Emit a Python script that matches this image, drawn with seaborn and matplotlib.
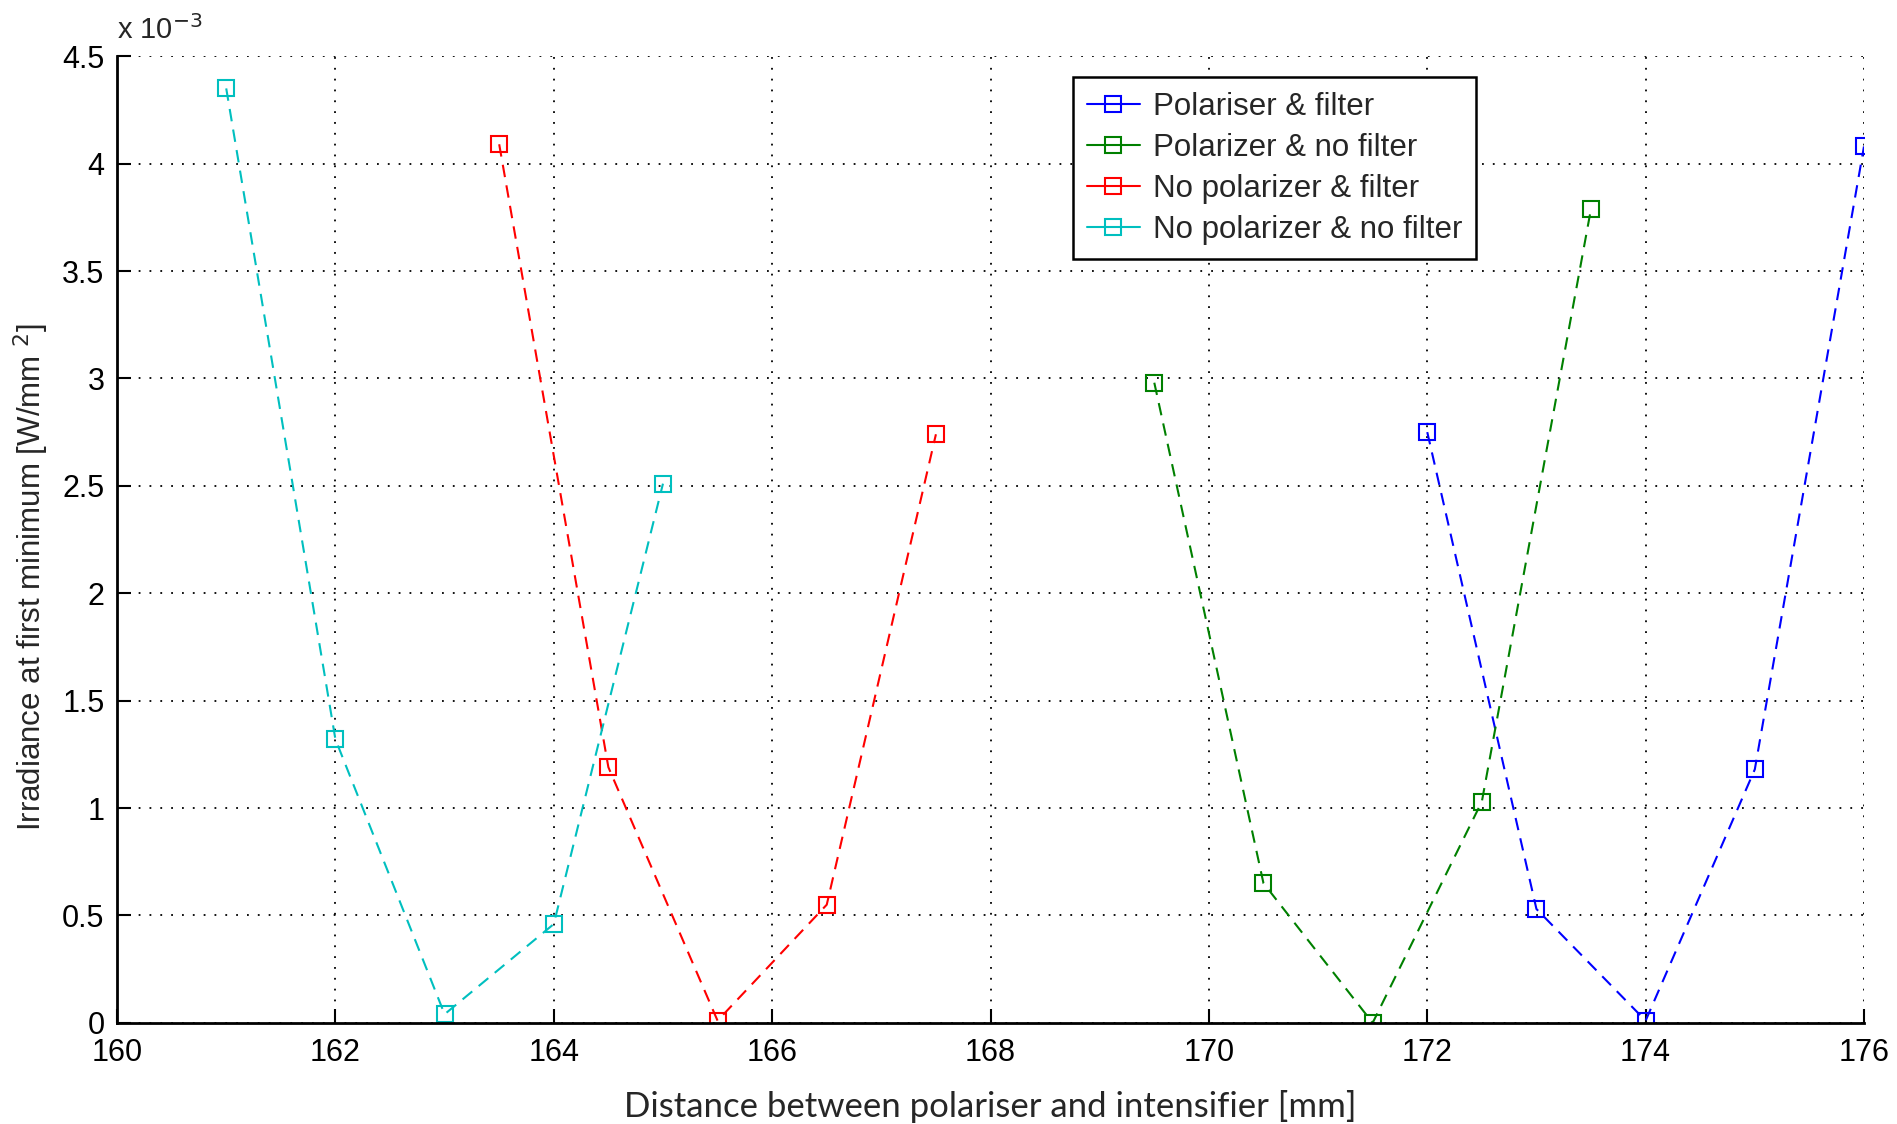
import matplotlib
matplotlib.use("Agg")
import matplotlib.pyplot as plt
import seaborn as sns
import pandas as pd
from matplotlib.lines import Line2D

# ---- data (irradiance in units of 1e-3 W/mm^2) ----
series_names = ["Polariser & filter", "Polarizer & no filter",
                "No polarizer & filter", "No polarizer & no filter"]
dist_pol_filter = [172, 173, 174, 175, 176]
irr_pol_filter = [2.75, 0.53, 0.01, 1.18, 4.08]
dist_pol_nofilter = [169.5, 170.5, 171.5, 172.5, 173.5]
irr_pol_nofilter = [2.98, 0.65, 0.0, 1.03, 3.79]
dist_nopol_filter = [163.5, 164.5, 165.5, 166.5, 167.5]
irr_nopol_filter = [4.09, 1.19, 0.01, 0.55, 2.74]
dist_nopol_nofilter = [161, 162, 163, 164, 165]
irr_nopol_nofilter = [4.35, 1.32, 0.04, 0.46, 2.51]

x_ticks = [160, 162, 164, 166, 168, 170, 172, 174, 176]
y_ticks = [0, 0.5, 1, 1.5, 2, 2.5, 3, 3.5, 4, 4.5]
y_tick_labels = ["0", "0.5", "1", "1.5", "2", "2.5", "3", "3.5", "4", "4.5"]

colors = ["#0000ff", "#008000", "#ff0000", "#00bfbf"]

frames = []
for name, xs, ys in zip(series_names,
                        [dist_pol_filter, dist_pol_nofilter, dist_nopol_filter, dist_nopol_nofilter],
                        [irr_pol_filter, irr_pol_nofilter, irr_nopol_filter, irr_nopol_nofilter]):
    frames.append(pd.DataFrame({"dist": xs, "irr": ys, "series": name}))
df = pd.concat(frames, ignore_index=True)

sns.set_style("white")
plt.rcParams["font.family"] = ["Liberation Sans", "DejaVu Sans"]

fig = plt.figure(figsize=(18.97, 11.24), dpi=100)
ax = fig.add_axes([0.0617, 0.090, 0.9209, 0.860])

for name, c in zip(series_names, colors):
    sub = df[df["series"] == name]
    sns.lineplot(data=sub, x="dist", y="irr", ax=ax, sort=False, color=c,
                 linestyle=(0, (6, 4)), linewidth=1.5, marker="s", markersize=11,
                 markerfacecolor="none", markeredgecolor=c, markeredgewidth=1.5,
                 legend=False)

ax.set_xlim(160, 176)
ax.set_ylim(0, 4.5)
ax.set_xticks(x_ticks)
ax.set_xticklabels([str(t) for t in x_ticks])
ax.set_yticks(y_ticks)
ax.set_yticklabels(y_tick_labels)
ax.tick_params(axis="both", direction="in", length=10, width=1.5, labelsize=22,
               colors="black")
ax.tick_params(axis="x", top=False, bottom=True, pad=11)
ax.tick_params(axis="y", left=True, right=False, pad=9)

ax.grid(True, color="black", linestyle=(0, (1, 5)), linewidth=1.3)
for s in ["top", "right"]:
    ax.spines[s].set_visible(False)
for s in ["left", "bottom"]:
    ax.spines[s].set_color("black")
    ax.spines[s].set_linewidth(2)

ax.set_xlabel("Distance between polariser and intensifier [mm]",
              fontsize=25, family=["Lato", "DejaVu Sans"], labelpad=16)
ax.set_ylabel(r"Irradiance at first minimum [W/mm $^{2}$]", fontsize=22.5)
ax.yaxis.set_label_coords(-0.038, 0.461)

ax.text(0.0, 1.012, r"x 10$^{-3}$", transform=ax.transAxes, fontsize=21,
        ha="left", va="bottom")

handles = [Line2D([], [], color=c, linestyle="-", linewidth=1.5, marker="s", markersize=11,
                  markerfacecolor="none", markeredgecolor=c, markeredgewidth=1.5)
           for c in colors]
leg = ax.legend(handles, series_names, loc="upper left", bbox_to_anchor=(0.547, 0.978),
                borderaxespad=0, fontsize=22.5, frameon=True, fancybox=False, shadow=False,
                handlelength=1.7, labelspacing=0.36, borderpad=0.45, handletextpad=0.42,
                framealpha=1, edgecolor="black")
leg.get_frame().set_linewidth(1.8)

fig.savefig("out.png", dpi=100)
